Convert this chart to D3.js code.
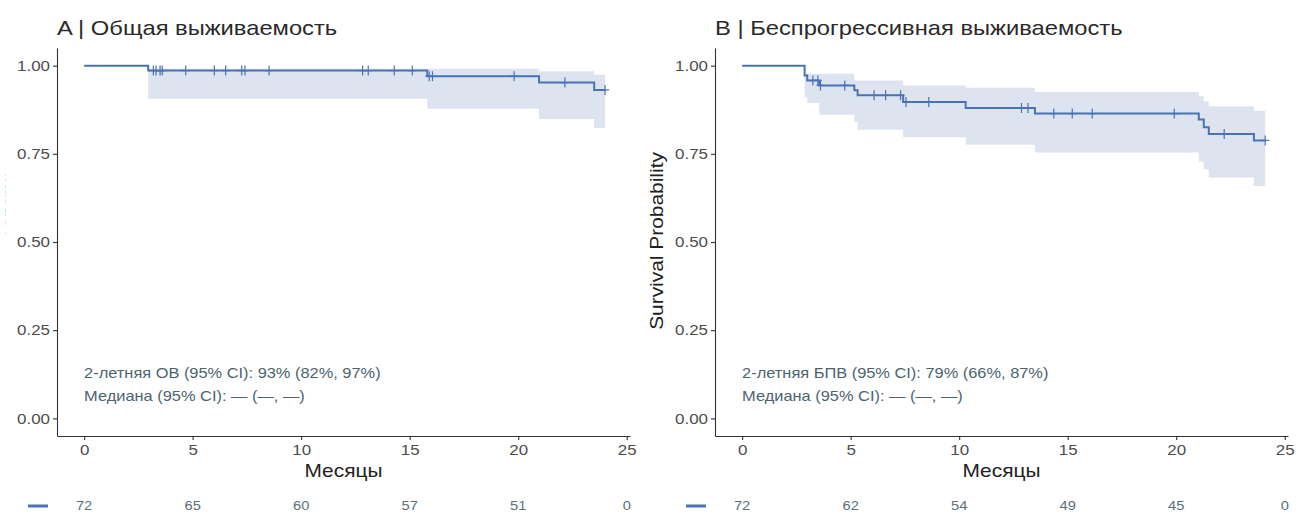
<!DOCTYPE html>
<html lang="ru">
<head>
<meta charset="UTF-8">
<title>Выживаемость</title>
<script src="https://cdnjs.cloudflare.com/ajax/libs/d3/7.8.5/d3.min.js"></script>
<style>
	*{margin:0;padding:0;}
	body{background:#fff;}
	svg{font-family:"Liberation Sans",Arial,sans-serif;}
	.axis path,.axis line{stroke:#333;stroke-width:1.1;}
	.axis text{fill:#4d4d4d;font-size:15px;}
</style>
</head>
<body>
<div id="chart"></div>
<script>
// ---- data ----
var riskTimes=[0,5,10,15,20,25]
var yTicks=[0,0.25,0.5,0.75,1]

// A: overall survival
var osTime=[0,2.95,15.81,20.96,23.5]
var osSurv=[1,0.986,0.970,0.952,0.931]
var osUpper=[1,0.991,0.991,0.984,0.974]
var osLower=[1,0.906,0.878,0.849,0.823]
var osEnd=24.0
var osCensor=[3.19,3.31,3.5,3.6,4.68,6.0,6.52,7.26,7.41,8.52,12.83,13.09,14.29,15.12,15.9,16.05,19.81,22.15,24.0]
var osRisk=[72,65,60,57,51,0]

// B: progression-free survival
var pfsTime=[0,2.88,3.0,3.55,5.17,5.32,7.42,10.3,13.49,21.04,21.27,21.5,23.58]
var pfsSurv=[1,0.972,0.958,0.944,0.930,0.916,0.897,0.880,0.864,0.847,0.825,0.806,0.788]
var pfsUpper=[1,0.977,0.977,0.977,0.958,0.958,0.944,0.937,0.925,0.913,0.899,0.885,0.872]
var pfsLower=[1,0.91,0.894,0.861,0.84,0.818,0.797,0.776,0.754,0.728,0.706,0.683,0.659]
var pfsEnd=24.1
var pfsCensor=[3.26,3.49,3.61,4.73,6.08,6.61,7.3,7.55,8.6,12.87,13.17,14.36,15.21,16.13,19.91,22.21,24.1]
var pfsRisk=[72,62,54,49,45,0]

var lineColor='#4a73b5', bandColor='#dde4f0', noteColor='#4b6470'
var stretch=1.13 // the source text is a bit wider than Arial

var W=1298,H=513
var svg=d3.select('#chart').append('svg').attr('width',W).attr('height',H)

// panel A's y label is cropped in the source: only a sliver shows
svg.append('clipPath').attr('id','cropA').append('rect')
	.attr('x',7).attr('y',0).attr('width',60).attr('height',H)

function drawPanel(p){
	var g=svg.append('g')
	var x=d3.scaleLinear().domain([-1.25,25.15]).range([p.left,p.left+573])
	var y=d3.scaleLinear().domain([-0.05,1.05]).range([436,48])

	var pts=p.time.map(function(t,i){return {t:t,s:p.surv[i],u:p.upper[i],l:p.lower[i]}})
	var last=pts[pts.length-1]
	pts.push({t:p.end,s:last.s,u:last.u,l:last.l})

	var area=d3.area().curve(d3.curveStepAfter)
		.x(function(d){return x(d.t)})
		.y0(function(d){return y(d.l)})
		.y1(function(d){return y(d.u)})
	g.append('path').attr('d',area(pts)).attr('fill',bandColor)

	var line=d3.line().curve(d3.curveStepAfter)
		.x(function(d){return x(d.t)})
		.y(function(d){return y(d.s)})
	g.append('path').attr('d',line(pts)).attr('fill','none')
		.attr('stroke',lineColor).attr('stroke-width',2)

	// censor marks
	g.selectAll('.cens').data(p.censor).enter().append('path')
		.attr('d',function(t){
			var i=d3.bisectRight(p.time,t)-1
			var cx=x(t),cy=y(p.surv[i])
			return 'M'+cx+','+(cy-5)+'V'+(cy+5)+'M'+(cx-4)+','+cy+'H'+(cx+4)
		})
		.attr('stroke',lineColor).attr('stroke-width',1.2).attr('fill','none')

	// axes
	g.append('g').attr('class','axis').attr('transform','translate(0,436)')
		.call(d3.axisBottom(x).tickValues(riskTimes).tickSize(4).tickPadding(4).tickSizeOuter(0))
	g.append('g').attr('class','axis').attr('transform','translate('+p.left+',0)')
		.call(d3.axisLeft(y).tickValues(yTicks).tickFormat(d3.format('.2f')).tickSize(4).tickPadding(3).tickSizeOuter(0))

	g.append('text').attr('x',p.left).attr('y',35).text(p.title)
		.attr('font-size','21px').attr('fill','#2a2a2a')
	g.append('text').attr('x',(p.left+p.left+573)/2).attr('y',477).text('Месяцы')
		.attr('text-anchor','middle').attr('font-size','18.5px').attr('fill','#222')

	p.notes.forEach(function(n,i){
		g.append('text').attr('x',x(0)).attr('y',377.5+i*23).text(n)
			.attr('font-size','14.5px').attr('fill',noteColor)
	})

	// risk table
	g.append('line').attr('x1',p.left-29).attr('x2',p.left-9).attr('y1',506).attr('y2',506)
		.attr('stroke',lineColor).attr('stroke-width',3)
	g.selectAll('.risk').data(p.risk).enter().append('text')
		.attr('x',function(d,i){return x(riskTimes[i])}).attr('y',510)
		.attr('text-anchor','middle').attr('font-size','13px').attr('fill','#5a6f7c')
		.text(function(d){return d})

	var yl=g.append('text').attr('transform','translate('+(p.left-52)+',241) rotate(-90)')
		.attr('text-anchor','middle').attr('font-size','18.5px').attr('fill','#222').text('Survival Probability')
	if(p.crop) yl.attr('clip-path','url(#'+p.crop+')')
}

drawPanel({left:57,crop:'cropA',title:'A | Общая выживаемость',time:osTime,surv:osSurv,upper:osUpper,lower:osLower,end:osEnd,censor:osCensor,risk:osRisk,
	notes:['2-летняя ОВ (95% CI): 93% (82%, 97%)','Медиана (95% CI): — (—, —)']})
drawPanel({left:715,title:'B | Беспрогрессивная выживаемость',time:pfsTime,surv:pfsSurv,upper:pfsUpper,lower:pfsLower,end:pfsEnd,censor:pfsCensor,risk:pfsRisk,
	notes:['2-летняя БПВ (95% CI): 79% (66%, 87%)','Медиана (95% CI): — (—, —)']})

svg.selectAll('text').each(function(){
	var w=this.getComputedTextLength()
	d3.select(this).attr('textLength',w*stretch).attr('lengthAdjust','spacingAndGlyphs')
})
</script>
</body>
</html>
